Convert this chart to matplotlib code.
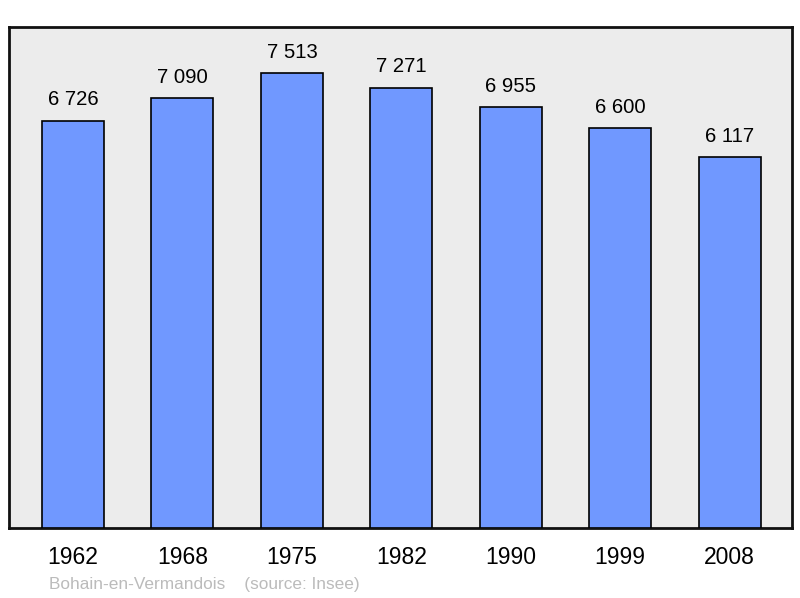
import matplotlib

matplotlib.use("Agg")
import matplotlib.pyplot as plt

years = ["1962", "1968", "1975", "1982", "1990", "1999", "2008"]
population = [6726, 7090, 7513, 7271, 6955, 6600, 6117]
value_labels = ["6 726", "7 090", "7 513", "7 271", "6 955", "6 600", "6 117"]

BAR, BG = "#7098ff", "#ececec"
plt.rcParams["font.family"] = ["Liberation Sans", "DejaVu Sans"]

fig = plt.figure(figsize=(8, 5.98), dpi=100)
ax = fig.add_axes([9 / 800, 1 - 528 / 598, 783 / 800, 501 / 598])
ax.set_facecolor(BG)

xs = range(len(years))
ax.bar(xs, population, width=0.567, color=BAR, edgecolor="black", linewidth=1.2, zorder=3)
for x, v, s in zip(xs, population, value_labels):
    ax.annotate(s, (x, v), xytext=(0, 8), textcoords="offset points",
                ha="center", va="bottom", fontsize=14.6)

ax.set_xlim(-0.585, 6.57)
ax.set_ylim(0, 8270)
ax.set_xticks(list(xs))
ax.set_xticklabels(years, fontsize=16.5)
ax.tick_params(axis="x", length=0, pad=13)
ax.set_yticks([])
for sp in ax.spines.values():
    sp.set_linewidth(2)
    sp.set_color("#111111")

fig.text(49 / 800, 1 - 584 / 598, "Bohain-en-Vermandois    (source: Insee)",
         color="#bbbbbb", fontsize=12.4, va="center", ha="left")

fig.savefig("out.png", dpi=100)
